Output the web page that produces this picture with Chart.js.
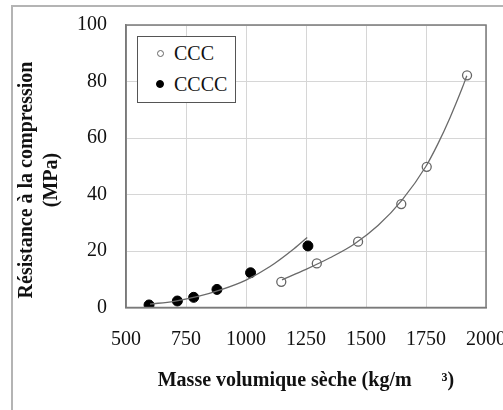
<!DOCTYPE html>
<html lang="fr">
<head>
  <meta charset="UTF-8">
  <title>Résistance à la compression</title>
  <script src="https://cdn.jsdelivr.net/npm/chart.js"></script>
  <style>
    body { margin: 0; background: #fff; overflow: hidden; }
    #wrap { position: relative; width: 503px; height: 410px; overflow: hidden; }
    #frame { position: absolute; left: 11px; top: 5px; width: 600px; height: 600px; border: 2px solid #b4b4b4; }
    canvas { position: absolute; left: 0; top: 0; }
    #legend { position: absolute; left: 137px; top: 36px; width: 97px; height: 65px; border: 1px solid #555; background: #fff;
      font-family: "Liberation Serif", serif; font-size: 20px; color: #111; }
    #legend .row { position: absolute; left: 0; height: 24px; line-height: 24px; white-space: nowrap; }
    #legend .mark { position: absolute; border-radius: 50%; box-sizing: border-box; }
    #legend .lab { position: absolute; left: 36px; }
  </style>
</head>
<body>
  <div id="wrap">
    <div id="frame"></div>
    <canvas id="chart" width="503" height="410"></canvas>
    <div id="legend"></div>
  </div>

  <script>
    // valeurs
    const xTicks = [500, 750, 1000, 1250, 1500, 1750, 2000];
    const yTicks = [0, 20, 40, 60, 80, 100];

    const cccX = [1147, 1295, 1467, 1647, 1753, 1921];
    const cccY = [9.1, 15.6, 23.3, 36.6, 49.8, 82.2];
    const ccccX = [596, 714, 782, 879, 1019, 1258];
    const ccccY = [0.9, 2.3, 3.6, 6.4, 12.3, 21.8];

    // courbes de tendance
    const cccTrendX = [1150, 1250, 1350, 1450, 1550, 1650, 1750, 1800, 1850, 1900, 1920];
    const cccTrendY = [9.8, 13.5, 17.6, 22.4, 29.0, 38.0, 50.0, 58.0, 67.2, 77.5, 82.0];
    const ccccTrendX = [600, 700, 800, 900, 1000, 1100, 1200, 1255];
    const ccccTrendY = [1.2, 2.2, 3.9, 6.4, 9.7, 14.5, 20.8, 24.8];

    const font = "'Liberation Serif', 'Times New Roman', serif";

    function pts(xs, ys) {
      return xs.map((x, i) => ({ x: x, y: ys[i] }));
    }

    const trendStyle = {
      showLine: true, borderColor: '#6a6a6a', borderWidth: 1.3, pointRadius: 0,
      cubicInterpolationMode: 'monotone', fill: false, trend: true
    };

    // cadre de la zone de tracé + titre vertical sur deux lignes
    const extras = {
      id: 'extras',
      afterDraw(chart) {
        const { ctx, chartArea: a } = chart;
        ctx.save();
        ctx.strokeStyle = '#7a7a7a';
        ctx.lineWidth = 1.5;
        ctx.strokeRect(a.left, a.top, a.right - a.left, a.bottom - a.top);
        ctx.fillStyle = '#111';
        ctx.font = 'bold 20px ' + font;
        ctx.textAlign = 'center';
        ctx.textBaseline = 'middle';
        ctx.translate(0, 180);
        ctx.rotate(-Math.PI / 2);
        ctx.fillText('Résistance à la compression', 0, 27);
        ctx.fillText('(MPa)', 0, 52);
        ctx.restore();
      }
    };

    const chart = new Chart(document.getElementById('chart'), {
      type: 'scatter',
      data: {
        datasets: [
          Object.assign({ label: 'CCC trend', data: pts(cccTrendX, cccTrendY) }, trendStyle),
          Object.assign({ label: 'CCCC trend', data: pts(ccccTrendX, ccccTrendY) }, trendStyle),
          {
            label: 'CCC', data: pts(cccX, cccY),
            pointRadius: 4.5, pointBackgroundColor: '#fff', pointBorderColor: '#666', pointBorderWidth: 1.3
          },
          {
            label: 'CCCC', data: pts(ccccX, ccccY),
            pointRadius: 5, pointBackgroundColor: '#000', pointBorderColor: '#000', pointBorderWidth: 1
          }
        ]
      },
      options: {
        responsive: false,
        animation: false,
        layout: { padding: { top: 25, right: 17, left: 0, bottom: 0 } },
        plugins: { legend: { display: false }, tooltip: { enabled: false } },
        scales: {
          x: {
            type: 'linear', min: 500, max: 2000,
            afterBuildTicks: s => { s.ticks = xTicks.map(v => ({ value: v })); },
            afterFit: s => { s.height = 102.5; s.paddingLeft = 0; s.paddingRight = 0; },
            grid: { color: '#d6d6d6', drawTicks: false },
            border: { color: '#7a7a7a', width: 1.5 },
            ticks: { color: '#111', font: { family: font, size: 20 }, padding: 20, maxRotation: 0,
              callback: v => String(v) },
            title: {
              display: true, text: 'Masse volumique sèche (kg/m      ³)', color: '#111',
              font: { family: font, size: 20, weight: 'bold' }, padding: { top: 0, bottom: 17 }
            }
          },
          y: {
            type: 'linear', min: 0, max: 100,
            afterBuildTicks: s => { s.ticks = yTicks.map(v => ({ value: v })); },
            afterFit: s => { s.width = 126; s.paddingTop = 0; s.paddingBottom = 0; },
            grid: { color: '#d6d6d6', drawTicks: false },
            border: { color: '#7a7a7a', width: 1.5 },
            ticks: { color: '#111', font: { family: font, size: 20 }, padding: 19, callback: v => String(v) }
          }
        }
      },
      plugins: [extras]
    });

    // légende HTML tirée des jeux de données
    const leg = document.getElementById('legend');
    chart.data.datasets.filter(d => !d.trend).forEach((d, i) => {
      const row = document.createElement('div');
      row.className = 'row';
      row.style.top = (4 + i * 31) + 'px';
      const r = d.label === 'CCC' ? 3.5 : 4;
      const m = document.createElement('span');
      m.className = 'mark';
      m.style.width = m.style.height = (2 * r) + 'px';
      m.style.left = (22 - r) + 'px';
      m.style.top = (12 - r) + 'px';
      m.style.background = d.pointBackgroundColor;
      m.style.border = '1.2px solid ' + d.pointBorderColor;
      const t = document.createElement('span');
      t.className = 'lab';
      t.textContent = d.label;
      row.appendChild(m);
      row.appendChild(t);
      leg.appendChild(row);
    });
  </script>
</body>
</html>
